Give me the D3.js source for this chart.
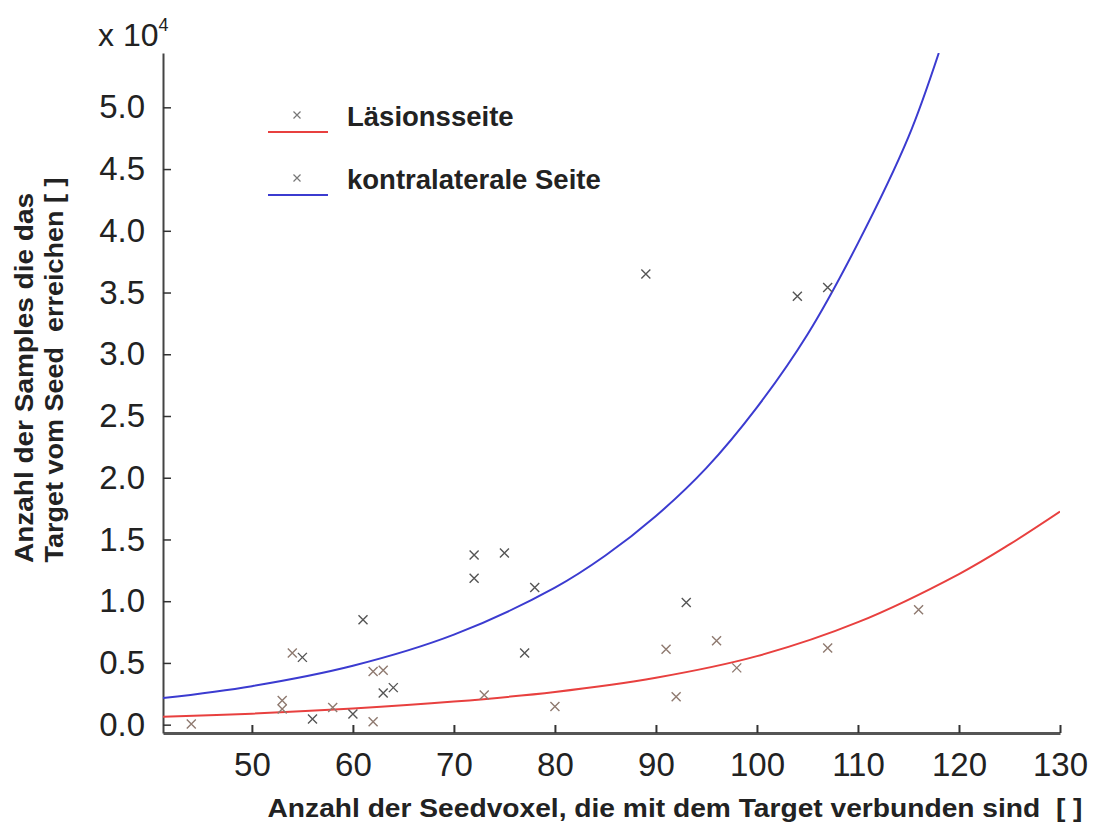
<!DOCTYPE html>
<html>
<head>
<meta charset="UTF-8">
<title>Seedvoxel vs Samples</title>
<style>
  body { margin: 0; background: #fff; }
  text { font-family: "Liberation Sans", Arial, sans-serif; }
</style>
</head>
<body>
<div id="chart"></div>
<script src="https://d3js.org/d3.v7.min.js"></script>
<script>
// Streupunkte Läsionsseite: [Seedvoxel, Samples]
var lesionPoints = [
  [44, 60], [53, 1950], [53, 1270], [54, 5800], [58, 1400], [62, 240],
  [62, 4300], [63, 4400], [73, 2400], [80, 1480], [91, 6100], [92, 2270],
  [96, 6800], [98, 4600], [107, 6200], [116, 9300]
];
// Streupunkte kontralaterale Seite
var contraPoints = [
  [55, 5450], [56, 460], [60, 870], [61, 8500], [63, 2570], [64, 3000],
  [72, 13750], [72, 11860], [75, 13900], [77, 5800], [78, 11100],
  [89, 36500], [93, 9900], [104, 34700], [107, 35400]
];
// Fitkurven
var lesionCurve = [
  [41.2, 650], [50, 890], [60, 1300], [70, 1870], [80, 2650], [90, 3800],
  [100, 5550], [110, 8300], [120, 12200], [125, 14600], [130, 17260]
];
var contraCurve = [
  [41.2, 2150], [50, 3120], [60, 4770], [70, 7290], [80, 11100],
  [85, 13700], [90, 16900], [95, 20800], [100, 25700], [105, 31600],
  [110, 39000], [115, 47600], [118, 54400]
];
var xTicks = [50, 60, 70, 80, 90, 100, 110, 120, 130];
var yTicks = [0, 5000, 10000, 15000, 20000, 25000, 30000, 35000, 40000, 45000, 50000];
var legendLabels = ["Läsionsseite", "kontralaterale Seite"];

var width = 1098, height = 835;
var plot = { left: 163, right: 1060, top: 53, bottom: 733 };
var lesionColor = "#e8403f", contraColor = "#3b3bd0";

var svg = d3.select("#chart").append("svg")
  .attr("width", width)
  .attr("height", height);

var x = d3.scaleLinear().domain([41.2, 130]).range([plot.left, plot.right]);
var y = d3.scaleLinear().domain([-675, 54400]).range([plot.bottom, plot.top]);

svg.append("clipPath").attr("id", "clip")
  .append("rect")
  .attr("x", plot.left).attr("y", plot.top)
  .attr("width", plot.right - plot.left)
  .attr("height", plot.bottom - plot.top);

// x Achse
var gx = svg.append("g")
  .attr("transform", "translate(0," + plot.bottom + ")")
  .call(d3.axisBottom(x).tickValues(xTicks).tickSizeInner(-8).tickSizeOuter(0).tickPadding(20));
gx.select(".domain").attr("stroke", "#555").attr("stroke-width", 3);
gx.selectAll(".tick line").attr("stroke", "#333").attr("stroke-width", 2);
gx.selectAll(".tick text").attr("font-size", "33px").attr("fill", "#222")
  .attr("font-family", "Liberation Sans, Arial, sans-serif");

// y Achse
var gy = svg.append("g")
  .attr("transform", "translate(" + plot.left + ",0)")
  .call(d3.axisLeft(y).tickValues(yTicks).tickSizeInner(-8).tickSizeOuter(0).tickPadding(18)
    .tickFormat(function(d) { return d3.format(".1f")(d / 1e4); }));
gy.select(".domain").attr("stroke", "#444").attr("stroke-width", 2);
gy.selectAll(".tick line").attr("stroke", "#333").attr("stroke-width", 1.5);
gy.selectAll(".tick text").attr("font-size", "33px").attr("fill", "#222")
  .attr("font-family", "Liberation Sans, Arial, sans-serif");

// x 10^4
var exp = svg.append("text").attr("x", 98).attr("y", 46)
  .attr("font-size", "32px").attr("fill", "#222");
exp.append("tspan").text("x 10");
exp.append("tspan").attr("font-size", "18px").attr("dy", -15).text("4");

// Kurven
var line = d3.line()
  .x(function(d) { return x(d[0]); })
  .y(function(d) { return y(d[1]); })
  .curve(d3.curveCatmullRom.alpha(0.5));

var curves = svg.append("g").attr("clip-path", "url(#clip)");
curves.append("path").datum(lesionCurve)
  .attr("d", line).attr("fill", "none")
  .attr("stroke", lesionColor).attr("stroke-width", 2);
curves.append("path").datum(contraCurve)
  .attr("d", line).attr("fill", "none")
  .attr("stroke", contraColor).attr("stroke-width", 2);

// Marker
function cross(g, cx, cy, r) {
  g.append("path")
    .attr("d", "M" + (cx - r) + "," + (cy - r) + "L" + (cx + r) + "," + (cy + r) +
               "M" + (cx - r) + "," + (cy + r) + "L" + (cx + r) + "," + (cy - r));
}
var marks = svg.append("g").attr("fill", "none").attr("stroke-width", 1.4);
var mLes = marks.append("g").attr("stroke", "#8f7a70");
lesionPoints.forEach(function(d) { cross(mLes, x(d[0]), y(d[1]), 4.5); });
var mCon = marks.append("g").attr("stroke", "#555");
contraPoints.forEach(function(d) { cross(mCon, x(d[0]), y(d[1]), 4.5); });

// Legende
var legend = svg.append("g");
var legColors = [lesionColor, contraColor];
legendLabels.forEach(function(lab, i) {
  var oy = 115 + i * 63;
  var g = legend.append("g").attr("stroke", "#777").attr("stroke-width", 1.2);
  cross(g, 297, oy, 3.5);
  legend.append("line").attr("x1", 268).attr("x2", 328)
    .attr("y1", oy + 17).attr("y2", oy + 17)
    .attr("stroke", legColors[i]).attr("stroke-width", 2);
  legend.append("text").attr("x", 347).attr("y", oy + 11)
    .attr("font-size", "27.5px").attr("font-weight", "bold").attr("fill", "#222")
    .text(lab);
});

// Achsentitel
svg.append("text")
  .attr("x", 675).attr("y", 817)
  .attr("text-anchor", "middle")
  .attr("font-size", "25px").attr("font-weight", "bold").attr("fill", "#222")
  .attr("textLength", 815).attr("lengthAdjust", "spacingAndGlyphs")
  .style("white-space", "pre")
  .text("Anzahl der Seedvoxel, die mit dem Target verbunden sind  [ ]");

var yt = svg.append("text")
  .attr("transform", "translate(33,378) rotate(-90)")
  .attr("text-anchor", "middle")
  .attr("font-size", "26px").attr("font-weight", "bold").attr("fill", "#222")
  .style("white-space", "pre");
yt.append("tspan").attr("x", 0).attr("dy", 0)
  .attr("textLength", 370).attr("lengthAdjust", "spacingAndGlyphs")
  .text("Anzahl der Samples die das");
yt.append("tspan").attr("x", 8).attr("dy", 30)
  .attr("textLength", 385).attr("lengthAdjust", "spacingAndGlyphs")
  .text("Target vom Seed  erreichen [ ]");
</script>
</body>
</html>
